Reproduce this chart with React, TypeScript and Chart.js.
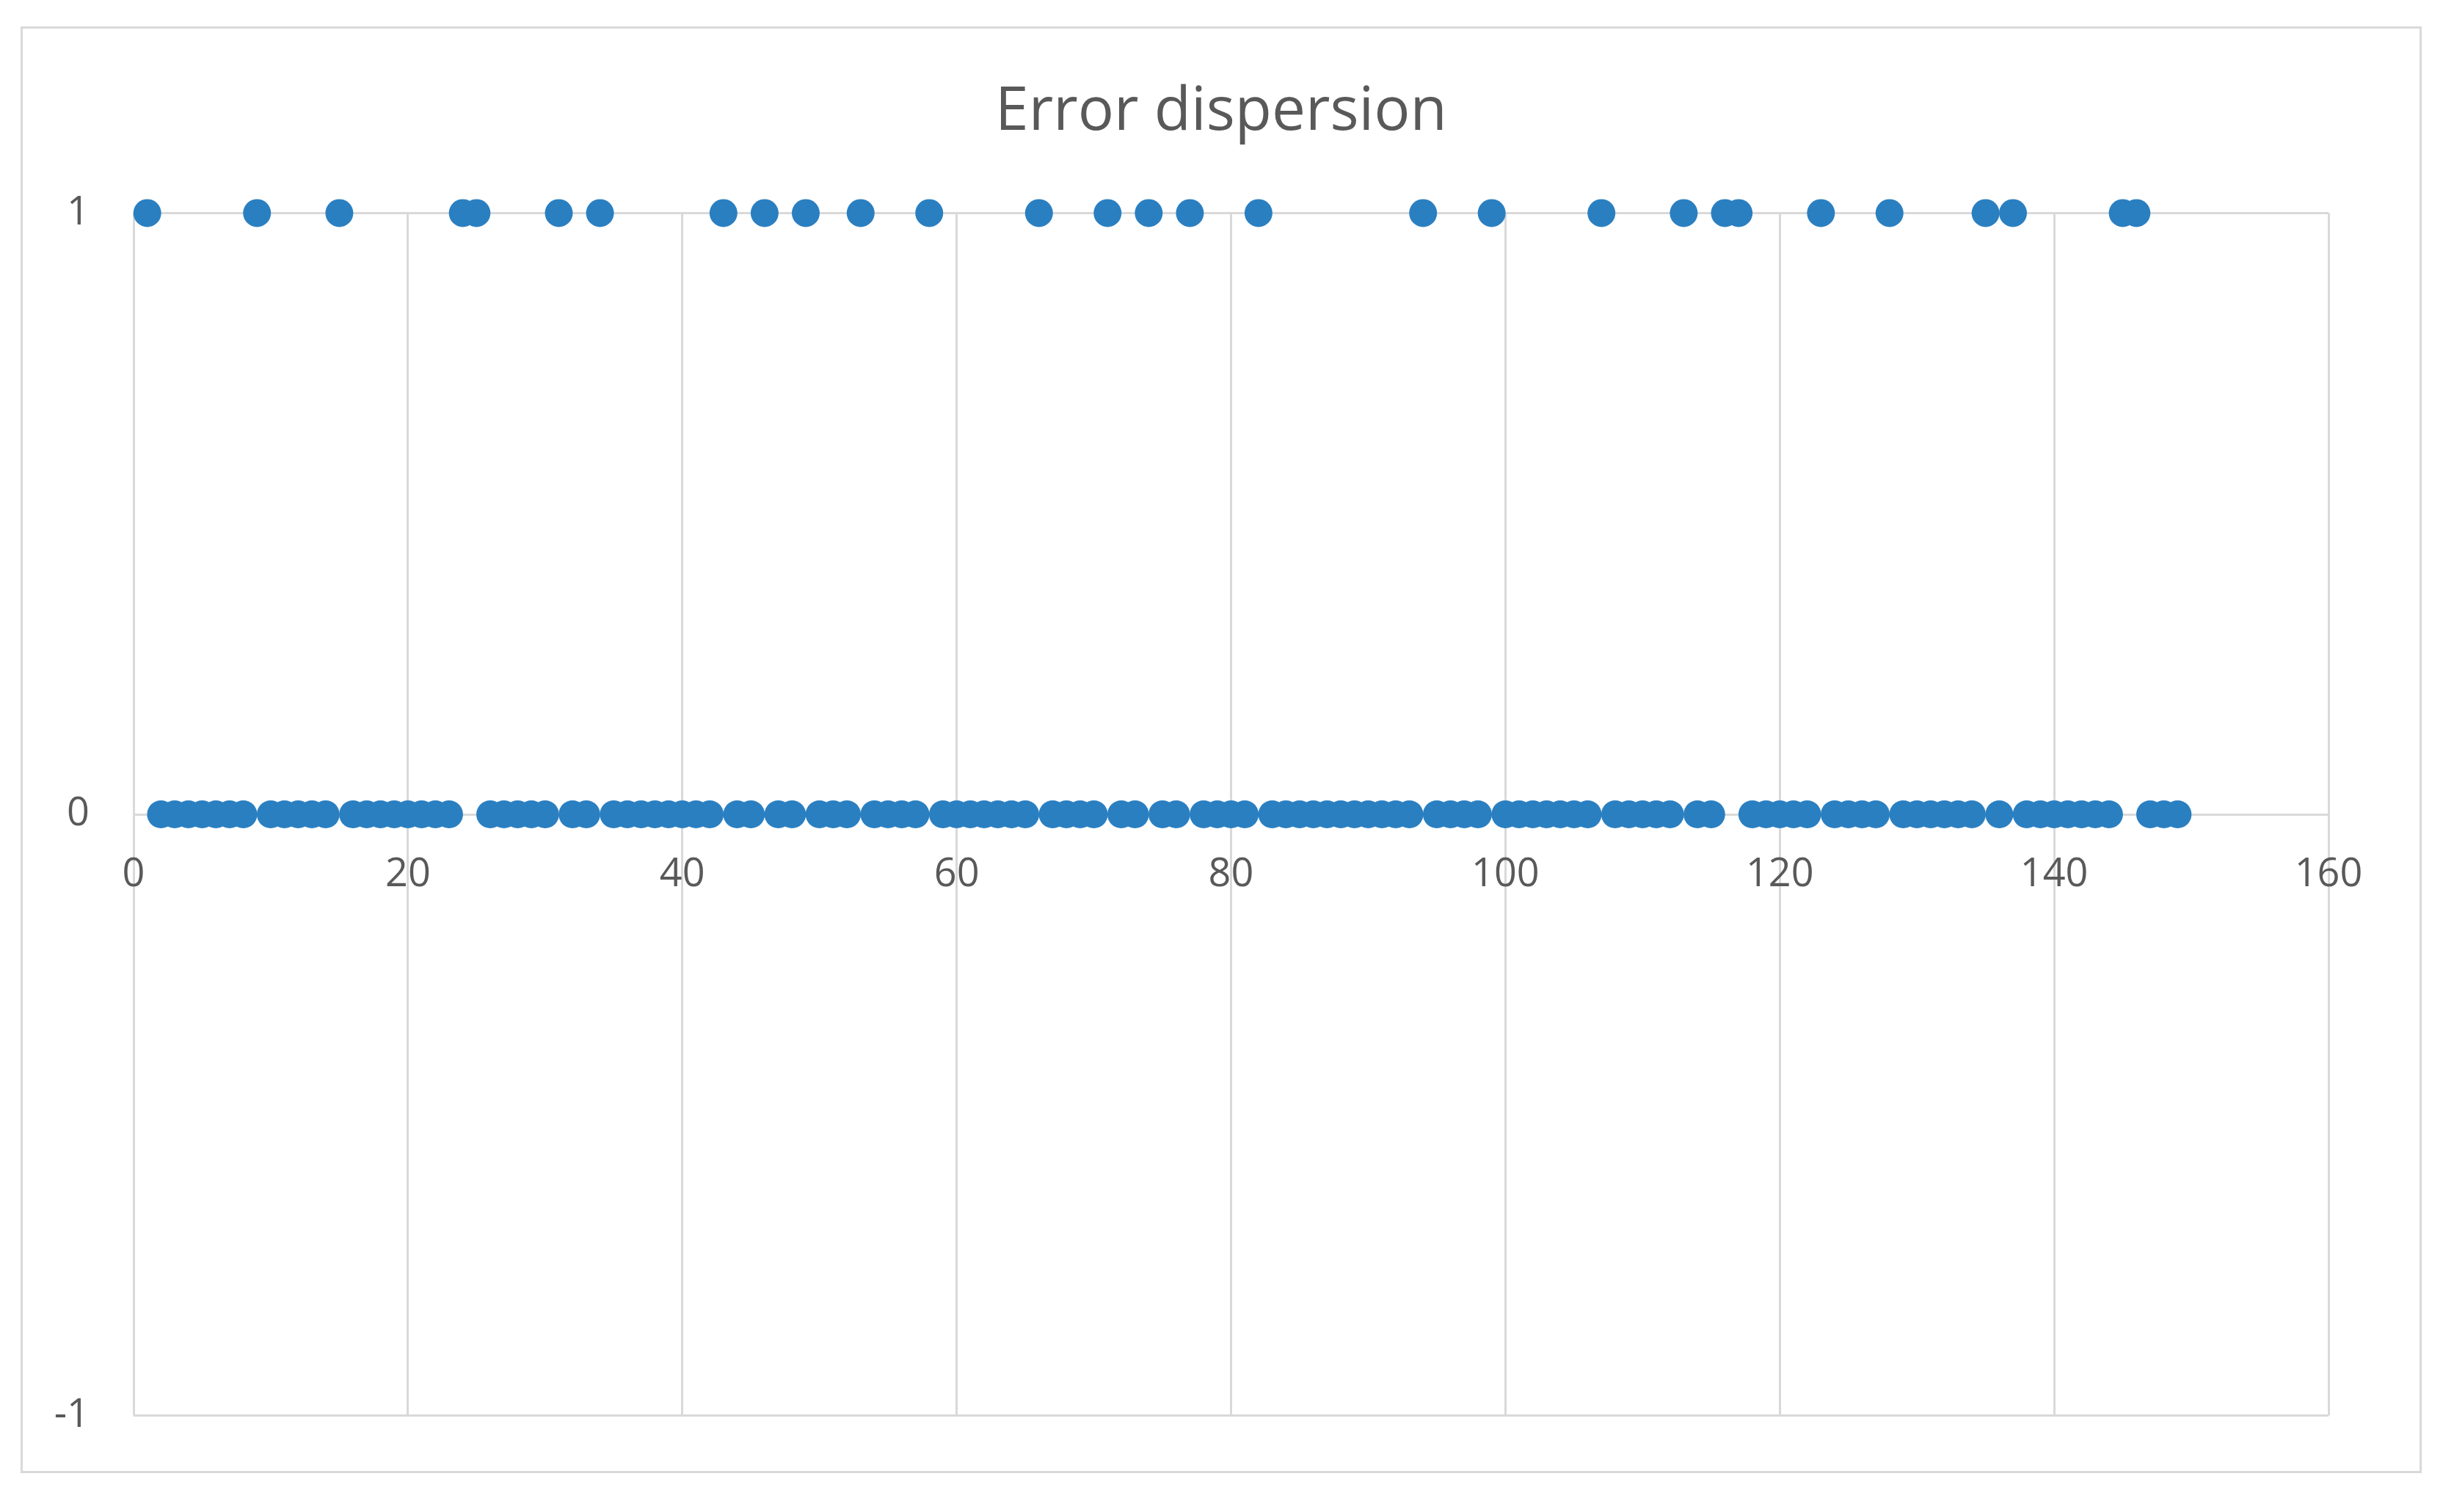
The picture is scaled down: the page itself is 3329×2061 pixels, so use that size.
import React, { useEffect, useRef } from "react";
import { Chart, registerables } from "chart.js";

Chart.register(...registerables);

const chartTitle = "Error dispersion";

const sampleIndex = [
  1, 2, 3, 4, 5, 6, 7, 8, 9, 10,
  11, 12, 13, 14, 15, 16, 17, 18, 19, 20,
  21, 22, 23, 24, 25, 26, 27, 28, 29, 30,
  31, 32, 33, 34, 35, 36, 37, 38, 39, 40,
  41, 42, 43, 44, 45, 46, 47, 48, 49, 50,
  51, 52, 53, 54, 55, 56, 57, 58, 59, 60,
  61, 62, 63, 64, 65, 66, 67, 68, 69, 70,
  71, 72, 73, 74, 75, 76, 77, 78, 79, 80,
  81, 82, 83, 84, 85, 86, 87, 88, 89, 90,
  91, 92, 93, 94, 95, 96, 97, 98, 99, 100,
  101, 102, 103, 104, 105, 106, 107, 108, 109, 110,
  111, 112, 113, 114, 115, 116, 117, 118, 119, 120,
  121, 122, 123, 124, 125, 126, 127, 128, 129, 130,
  131, 132, 133, 134, 135, 136, 137, 138, 139, 140,
  141, 142, 143, 144, 145, 146, 147, 148, 149,
];

const errorValues = [
  1, 0, 0, 0, 0, 0, 0, 0, 1, 0,
  0, 0, 0, 0, 1, 0, 0, 0, 0, 0,
  0, 0, 0, 1, 1, 0, 0, 0, 0, 0,
  1, 0, 0, 1, 0, 0, 0, 0, 0, 0,
  0, 0, 1, 0, 0, 1, 0, 0, 1, 0,
  0, 0, 1, 0, 0, 0, 0, 1, 0, 0,
  0, 0, 0, 0, 0, 1, 0, 0, 0, 0,
  1, 0, 0, 1, 0, 0, 1, 0, 0, 0,
  0, 1, 0, 0, 0, 0, 0, 0, 0, 0,
  0, 0, 0, 1, 0, 0, 0, 0, 1, 0,
  0, 0, 0, 0, 0, 0, 1, 0, 0, 0,
  0, 0, 1, 0, 0, 1, 1, 0, 0, 0,
  0, 0, 1, 0, 0, 0, 0, 1, 0, 0,
  0, 0, 0, 0, 1, 0, 1, 0, 0, 0,
  0, 0, 0, 0, 1, 1, 0, 0, 0,
];

const xAxisRange = [0, 160];
const xAxisStep = 20;
const yAxisRange = [-1, 1];
const yAxisStep = 1;

const FONT = "'Open Sans', 'Noto Sans', sans-serif";
const TEXT_COLOR = "#595959";
const GRID_COLOR = "#d9d9d9";
const POINT_COLOR = "#2a7fc1";

export default function App() {
  const canvasRef = useRef<HTMLCanvasElement | null>(null);

  useEffect(() => {
    if (!canvasRef.current) return;
    const points = sampleIndex.map((x, i) => ({ x, y: errorValues[i] }));
    const chart = new Chart(canvasRef.current, {
      type: "scatter",
      data: {
        datasets: [
          {
            label: chartTitle,
            data: points,
            backgroundColor: POINT_COLOR,
            borderColor: POINT_COLOR,
            borderWidth: 0,
            pointRadius: 19,
            pointHoverRadius: 19,
            clip: false,
          } as any,
        ],
      },
      options: {
        animation: false,
        responsive: true,
        maintainAspectRatio: false,
        layout: { padding: 0 },
        plugins: {
          legend: { display: false },
          tooltip: { enabled: false },
          title: {
            display: true,
            text: chartTitle,
            color: TEXT_COLOR,
            font: { family: FONT, size: 82, weight: "normal" },
            padding: { top: 65, bottom: 88 },
          },
        },
        scales: {
          x: {
            type: "linear",
            position: { y: 0 } as any,
            min: xAxisRange[0],
            max: xAxisRange[1],
            ticks: {
              stepSize: xAxisStep,
              color: TEXT_COLOR,
              font: { family: FONT, size: 54 },
              padding: 50,
              maxRotation: 0,
            },
            grid: { color: GRID_COLOR, lineWidth: 3, drawTicks: false },
            border: { display: true, color: GRID_COLOR, width: 3 },
          },
          y: {
            type: "linear",
            position: "left",
            min: yAxisRange[0],
            max: yAxisRange[1],
            afterFit: (scale: any) => {
              scale.width = 151;
            },
            ticks: {
              stepSize: yAxisStep,
              color: TEXT_COLOR,
              font: { family: FONT, size: 54 },
              padding: 60,
            },
            grid: { color: GRID_COLOR, lineWidth: 3, drawTicks: false },
            border: { display: false },
          },
          yRightSpace: {
            type: "linear",
            position: "right",
            afterFit: (scale: any) => {
              scale.width = 124;
            },
            ticks: { display: false },
            grid: { display: false, drawOnChartArea: false },
            border: { display: false },
          },
        },
      },
    });
    return () => chart.destroy();
  }, []);

  return (
    <div
      style={{
        position: "absolute",
        left: 0,
        top: 0,
        width: 3329,
        height: 2061,
        background: "#ffffff",
      }}
    >
      <div
        style={{
          position: "absolute",
          left: 28,
          top: 36,
          width: 3266,
          height: 1966,
          border: `3px solid ${GRID_COLOR}`,
          background: "#ffffff",
        }}
      >
        <div
          style={{
            position: "absolute",
            left: 0,
            top: 0,
            width: 3266,
            height: 1983,
          }}
        >
          <canvas ref={canvasRef} />
        </div>
      </div>
    </div>
  );
}
